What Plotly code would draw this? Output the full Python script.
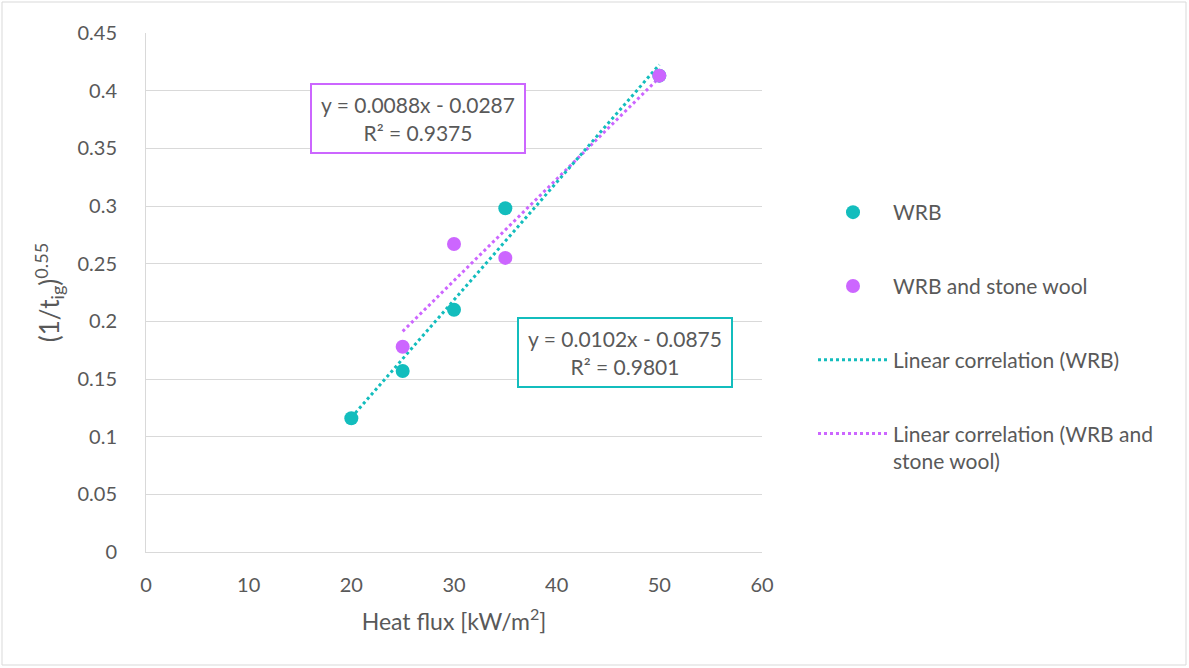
import numpy as np
import plotly.graph_objects as go

# Measured ignition data
heat_flux_wrb = [20, 25, 30, 35, 50]
ign_wrb = [0.116, 0.157, 0.210, 0.298, 0.413]

heat_flux_sw = [25, 30, 35, 50]
ign_sw = [0.178, 0.267, 0.255, 0.413]

# Linear fit coefficients (slope, intercept, R²)
fit_wrb = (0.0102, -0.0875, 0.9801)
fit_sw = (0.0088, -0.0287, 0.9375)

TEAL = "#13BDBD"
PURPLE = "#CC66FF"
TEXT = "#595959"
GRID = "#D9D9D9"
FONT = "Lato, 'Open Sans', sans-serif"

L, R, T, B = 146, 427, 33, 116
PW, PH = 1189 - L - R, 668 - T - B


def fit_line(xs, coef):
    x = np.array([min(xs), max(xs)], dtype=float)
    return x, coef[0] * x + coef[1]


fig = go.Figure()

xw, yw = fit_line(heat_flux_wrb, fit_wrb)
xs, ys = fit_line(heat_flux_sw, fit_sw)

fig.add_trace(go.Scatter(
    x=xs, y=ys, mode="lines", name="Linear correlation (WRB and<br>stone wool)",
    line=dict(color=PURPLE, width=3, dash="3px,3px"),
    legendgroup="d", legendrank=4,
))
fig.add_trace(go.Scatter(
    x=xw, y=yw, mode="lines", name="Linear correlation (WRB)",
    line=dict(color=TEAL, width=3, dash="3px,3px"),
    legendgroup="c", legendrank=3,
))
fig.add_trace(go.Scatter(
    x=heat_flux_wrb, y=ign_wrb, mode="markers", name="WRB",
    marker=dict(color=TEAL, size=14),
    legendgroup="a", legendrank=1,
))
fig.add_trace(go.Scatter(
    x=heat_flux_sw, y=ign_sw, mode="markers", name="WRB and stone wool",
    marker=dict(color=PURPLE, size=14),
    legendgroup="b", legendrank=2,
))


def eq_text(coef):
    sign = "-" if coef[1] < 0 else "+"
    return f"y = {coef[0]:.4f}x {sign} {abs(coef[1]):.4f}<br>R² = {coef[2]:.4f}"


fig.add_annotation(
    x=26.5, y=0.3755, xref="x", yref="y", text=eq_text(fit_sw), showarrow=False,
    font=dict(size=21, color=TEXT, family=FONT), align="center",
    bordercolor=PURPLE, borderwidth=2, borderpad=3, width=206, height=61,
    bgcolor="white",
)
fig.add_annotation(
    x=46.7, y=0.173, xref="x", yref="y", text=eq_text(fit_wrb), showarrow=False,
    font=dict(size=21, color=TEXT, family=FONT), align="center",
    bordercolor=TEAL, borderwidth=2, borderpad=3, width=206, height=61,
    bgcolor="white",
)

# Thin frame around the whole chart
fig.add_shape(
    type="rect", xref="paper", yref="paper",
    x0=(2 - L) / PW, x1=(1186 - L) / PW,
    y0=(552 - 665) / PH, y1=(552 - 2) / PH,
    line=dict(color=GRID, width=1), layer="below",
)

fig.update_layout(
    width=1189, height=668,
    margin=dict(l=L, r=R, t=T, b=B),
    paper_bgcolor="white", plot_bgcolor="white",
    font=dict(family=FONT, color=TEXT, size=20),
    showlegend=True,
    legend=dict(
        x=(813 - L) / PW, xanchor="left",
        y=(552 - 192) / PH, yanchor="top",
        font=dict(size=21, color=TEXT, family=FONT),
        traceorder="grouped", tracegroupgap=43.5, itemwidth=70,
        valign="top", bgcolor="rgba(0,0,0,0)",
    ),
    xaxis=dict(
        range=[0, 60], dtick=10, showgrid=False, zeroline=False,
        showline=True, linecolor=GRID, linewidth=1, ticks="",
        tickfont=dict(size=20, color=TEXT), ticklabelstandoff=15,
        title=dict(text="Heat flux [kW/m<sup>2</sup>]", font=dict(size=23, color=TEXT), standoff=18),
    ),
    yaxis=dict(
        range=[0, 0.45], dtick=0.05, showgrid=True, gridcolor=GRID, gridwidth=1,
        zeroline=False, showline=True, linecolor=GRID, linewidth=1, ticks="",
        tickfont=dict(size=20, color=TEXT), ticklabelstandoff=24,
        title=dict(text="(1/t<sub>ig</sub>)<sup>0.55</sup>", font=dict(size=26, color=TEXT), standoff=10),
    ),
)

fig.write_html("out.html")
